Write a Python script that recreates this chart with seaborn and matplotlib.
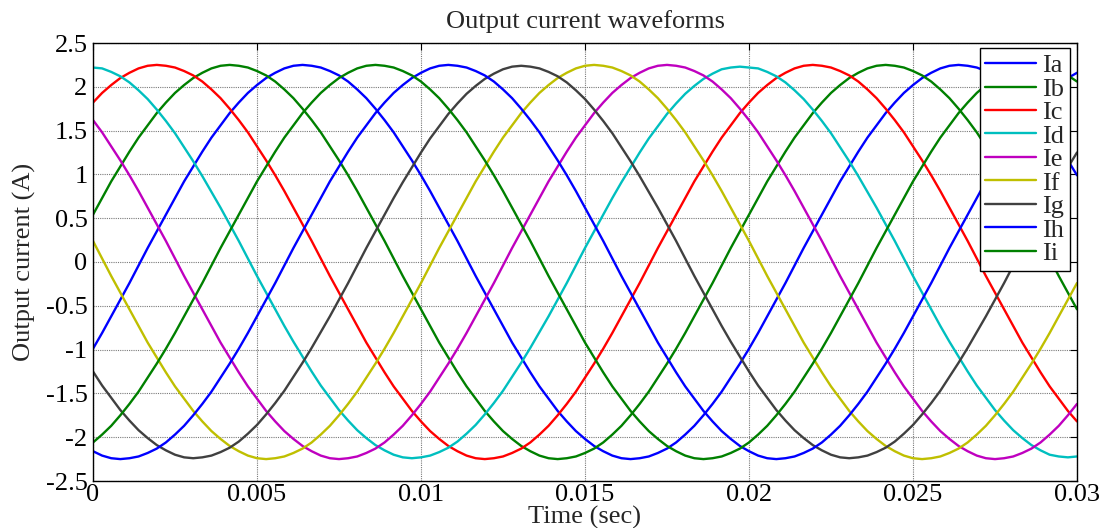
import numpy as np
import pandas as pd
import matplotlib
matplotlib.use("Agg")
import matplotlib.pyplot as plt
import seaborn as sns

time_s = np.linspace(0.0, 0.03, 109)

Ia = [-0.99, -0.81, -0.62, -0.43, -0.24, -0.04, 0.16, 0.35,
      0.54, 0.73, 0.92, 1.09, 1.26, 1.42, 1.56, 1.70,
      1.82, 1.93, 2.02, 2.10, 2.16, 2.21, 2.24, 2.25,
      2.24, 2.22, 2.18, 2.13, 2.06, 1.97, 1.87, 1.75,
      1.62, 1.48, 1.32, 1.16, 0.99, 0.81, 0.62, 0.43,
      0.24, 0.04, -0.16, -0.35, -0.54, -0.73, -0.92, -1.09,
      -1.26, -1.42, -1.56, -1.70, -1.82, -1.93, -2.02, -2.10,
      -2.16, -2.21, -2.24, -2.25, -2.24, -2.22, -2.18, -2.13,
      -2.06, -1.97, -1.87, -1.75, -1.62, -1.48, -1.32, -1.16,
      -0.99, -0.81, -0.62, -0.43, -0.24, -0.04, 0.16, 0.35,
      0.54, 0.73, 0.92, 1.09, 1.26, 1.42, 1.56, 1.70,
      1.82, 1.93, 2.02, 2.10, 2.16, 2.21, 2.24, 2.25,
      2.24, 2.22, 2.18, 2.13, 2.06, 1.97, 1.87, 1.75,
      1.62, 1.48, 1.32, 1.16, 0.99]
Ib = [0.54, 0.73, 0.92, 1.09, 1.26, 1.42, 1.56, 1.70,
      1.82, 1.93, 2.02, 2.10, 2.16, 2.21, 2.24, 2.25,
      2.24, 2.22, 2.18, 2.13, 2.06, 1.97, 1.87, 1.75,
      1.62, 1.48, 1.32, 1.16, 0.99, 0.81, 0.62, 0.43,
      0.24, 0.04, -0.16, -0.35, -0.54, -0.73, -0.92, -1.09,
      -1.26, -1.42, -1.56, -1.70, -1.82, -1.93, -2.02, -2.10,
      -2.16, -2.21, -2.24, -2.25, -2.24, -2.22, -2.18, -2.13,
      -2.06, -1.97, -1.87, -1.75, -1.62, -1.48, -1.32, -1.16,
      -0.99, -0.81, -0.62, -0.43, -0.24, -0.04, 0.16, 0.35,
      0.54, 0.73, 0.92, 1.09, 1.26, 1.42, 1.56, 1.70,
      1.82, 1.93, 2.02, 2.10, 2.16, 2.21, 2.24, 2.25,
      2.24, 2.22, 2.18, 2.13, 2.06, 1.97, 1.87, 1.75,
      1.62, 1.48, 1.32, 1.16, 0.99, 0.81, 0.62, 0.43,
      0.24, 0.04, -0.16, -0.35, -0.54]
Ic = [1.82, 1.93, 2.02, 2.10, 2.16, 2.21, 2.24, 2.25,
      2.24, 2.22, 2.18, 2.13, 2.06, 1.97, 1.87, 1.75,
      1.62, 1.48, 1.32, 1.16, 0.99, 0.81, 0.62, 0.43,
      0.24, 0.04, -0.16, -0.35, -0.54, -0.73, -0.92, -1.09,
      -1.26, -1.42, -1.56, -1.70, -1.82, -1.93, -2.02, -2.10,
      -2.16, -2.21, -2.24, -2.25, -2.24, -2.22, -2.18, -2.13,
      -2.06, -1.97, -1.87, -1.75, -1.62, -1.48, -1.32, -1.16,
      -0.99, -0.81, -0.62, -0.43, -0.24, -0.04, 0.16, 0.35,
      0.54, 0.73, 0.92, 1.09, 1.26, 1.42, 1.56, 1.70,
      1.82, 1.93, 2.02, 2.10, 2.16, 2.21, 2.24, 2.25,
      2.24, 2.22, 2.18, 2.13, 2.06, 1.97, 1.87, 1.75,
      1.62, 1.48, 1.32, 1.16, 0.99, 0.81, 0.62, 0.43,
      0.24, 0.04, -0.16, -0.35, -0.54, -0.73, -0.92, -1.09,
      -1.26, -1.42, -1.56, -1.70, -1.82]
Id = [2.22, 2.21, 2.17, 2.12, 2.05, 1.96, 1.86, 1.74,
      1.61, 1.47, 1.31, 1.15, 0.98, 0.80, 0.62, 0.43,
      0.24, 0.04, -0.16, -0.35, -0.54, -0.73, -0.91, -1.08,
      -1.25, -1.41, -1.55, -1.69, -1.81, -1.92, -2.01, -2.09,
      -2.15, -2.20, -2.23, -2.24, -2.23, -2.21, -2.17, -2.12,
      -2.05, -1.96, -1.86, -1.74, -1.61, -1.47, -1.31, -1.15,
      -0.98, -0.80, -0.62, -0.43, -0.24, -0.04, 0.16, 0.35,
      0.54, 0.73, 0.91, 1.08, 1.25, 1.41, 1.55, 1.69,
      1.81, 1.92, 2.01, 2.09, 2.15, 2.20, 2.22, 2.23,
      2.22, 2.21, 2.17, 2.12, 2.05, 1.96, 1.86, 1.74,
      1.61, 1.47, 1.31, 1.15, 0.98, 0.80, 0.62, 0.43,
      0.24, 0.04, -0.16, -0.35, -0.54, -0.73, -0.91, -1.08,
      -1.25, -1.41, -1.55, -1.69, -1.81, -1.92, -2.01, -2.09,
      -2.15, -2.20, -2.22, -2.23, -2.22]
Ie = [1.62, 1.48, 1.32, 1.16, 0.99, 0.81, 0.62, 0.43,
      0.24, 0.04, -0.16, -0.35, -0.54, -0.73, -0.92, -1.09,
      -1.26, -1.42, -1.56, -1.70, -1.82, -1.93, -2.02, -2.10,
      -2.16, -2.21, -2.24, -2.25, -2.24, -2.22, -2.18, -2.13,
      -2.06, -1.97, -1.87, -1.75, -1.62, -1.48, -1.32, -1.16,
      -0.99, -0.81, -0.62, -0.43, -0.24, -0.04, 0.16, 0.35,
      0.54, 0.73, 0.92, 1.09, 1.26, 1.42, 1.56, 1.70,
      1.82, 1.93, 2.02, 2.10, 2.16, 2.21, 2.24, 2.25,
      2.24, 2.22, 2.18, 2.13, 2.06, 1.97, 1.87, 1.75,
      1.62, 1.48, 1.32, 1.16, 0.99, 0.81, 0.62, 0.43,
      0.24, 0.04, -0.16, -0.35, -0.54, -0.73, -0.92, -1.09,
      -1.26, -1.42, -1.56, -1.70, -1.82, -1.93, -2.02, -2.10,
      -2.16, -2.21, -2.24, -2.25, -2.24, -2.22, -2.18, -2.13,
      -2.06, -1.97, -1.87, -1.75, -1.62]
If = [0.24, 0.04, -0.16, -0.35, -0.54, -0.73, -0.92, -1.09,
      -1.26, -1.42, -1.56, -1.70, -1.82, -1.93, -2.02, -2.10,
      -2.16, -2.21, -2.24, -2.25, -2.24, -2.22, -2.18, -2.13,
      -2.06, -1.97, -1.87, -1.75, -1.62, -1.48, -1.32, -1.16,
      -0.99, -0.81, -0.62, -0.43, -0.24, -0.04, 0.16, 0.35,
      0.54, 0.73, 0.92, 1.09, 1.26, 1.42, 1.56, 1.70,
      1.82, 1.93, 2.02, 2.10, 2.16, 2.21, 2.24, 2.25,
      2.24, 2.22, 2.18, 2.13, 2.06, 1.97, 1.87, 1.75,
      1.62, 1.48, 1.32, 1.16, 0.99, 0.81, 0.62, 0.43,
      0.24, 0.04, -0.16, -0.35, -0.54, -0.73, -0.92, -1.09,
      -1.26, -1.42, -1.56, -1.70, -1.82, -1.93, -2.02, -2.10,
      -2.16, -2.21, -2.24, -2.25, -2.24, -2.22, -2.18, -2.13,
      -2.06, -1.97, -1.87, -1.75, -1.62, -1.48, -1.32, -1.16,
      -0.99, -0.81, -0.62, -0.43, -0.24]
Ig = [-1.25, -1.41, -1.55, -1.69, -1.81, -1.92, -2.01, -2.09,
      -2.15, -2.20, -2.23, -2.24, -2.23, -2.21, -2.17, -2.12,
      -2.05, -1.96, -1.86, -1.74, -1.61, -1.47, -1.31, -1.15,
      -0.98, -0.80, -0.62, -0.43, -0.24, -0.04, 0.16, 0.35,
      0.54, 0.73, 0.91, 1.08, 1.25, 1.41, 1.55, 1.69,
      1.81, 1.92, 2.01, 2.09, 2.15, 2.20, 2.23, 2.24,
      2.23, 2.21, 2.17, 2.12, 2.05, 1.96, 1.86, 1.74,
      1.61, 1.47, 1.31, 1.15, 0.98, 0.80, 0.62, 0.43,
      0.24, 0.04, -0.16, -0.35, -0.54, -0.73, -0.91, -1.08,
      -1.25, -1.41, -1.55, -1.69, -1.81, -1.92, -2.01, -2.09,
      -2.15, -2.20, -2.23, -2.24, -2.23, -2.21, -2.17, -2.12,
      -2.05, -1.96, -1.86, -1.74, -1.61, -1.47, -1.31, -1.15,
      -0.98, -0.80, -0.62, -0.43, -0.24, -0.04, 0.16, 0.35,
      0.54, 0.73, 0.91, 1.08, 1.25]
Ih = [-2.16, -2.21, -2.24, -2.25, -2.24, -2.22, -2.18, -2.13,
      -2.06, -1.97, -1.87, -1.75, -1.62, -1.48, -1.32, -1.16,
      -0.99, -0.81, -0.62, -0.43, -0.24, -0.04, 0.16, 0.35,
      0.54, 0.73, 0.92, 1.09, 1.26, 1.42, 1.56, 1.70,
      1.82, 1.93, 2.02, 2.10, 2.16, 2.21, 2.24, 2.25,
      2.24, 2.22, 2.18, 2.13, 2.06, 1.97, 1.87, 1.75,
      1.62, 1.48, 1.32, 1.16, 0.99, 0.81, 0.62, 0.43,
      0.24, 0.04, -0.16, -0.35, -0.54, -0.73, -0.92, -1.09,
      -1.26, -1.42, -1.56, -1.70, -1.82, -1.93, -2.02, -2.10,
      -2.16, -2.21, -2.24, -2.25, -2.24, -2.22, -2.18, -2.13,
      -2.06, -1.97, -1.87, -1.75, -1.62, -1.48, -1.32, -1.16,
      -0.99, -0.81, -0.62, -0.43, -0.24, -0.04, 0.16, 0.35,
      0.54, 0.73, 0.92, 1.09, 1.26, 1.42, 1.56, 1.70,
      1.82, 1.93, 2.02, 2.10, 2.16]
Ii = [-2.06, -1.97, -1.87, -1.75, -1.62, -1.48, -1.32, -1.16,
      -0.99, -0.81, -0.62, -0.43, -0.24, -0.04, 0.16, 0.35,
      0.54, 0.73, 0.92, 1.09, 1.26, 1.42, 1.56, 1.70,
      1.82, 1.93, 2.02, 2.10, 2.16, 2.21, 2.24, 2.25,
      2.24, 2.22, 2.18, 2.13, 2.06, 1.97, 1.87, 1.75,
      1.62, 1.48, 1.32, 1.16, 0.99, 0.81, 0.62, 0.43,
      0.24, 0.04, -0.16, -0.35, -0.54, -0.73, -0.92, -1.09,
      -1.26, -1.42, -1.56, -1.70, -1.82, -1.93, -2.02, -2.10,
      -2.16, -2.21, -2.24, -2.25, -2.24, -2.22, -2.18, -2.13,
      -2.06, -1.97, -1.87, -1.75, -1.62, -1.48, -1.32, -1.16,
      -0.99, -0.81, -0.62, -0.43, -0.24, -0.04, 0.16, 0.35,
      0.54, 0.73, 0.92, 1.09, 1.26, 1.42, 1.56, 1.70,
      1.82, 1.93, 2.02, 2.10, 2.16, 2.21, 2.24, 2.25,
      2.24, 2.22, 2.18, 2.13, 2.06]

series_names = ["Ia", "Ib", "Ic", "Id", "Ie", "If", "Ig", "Ih", "Ii"]
series_values = [Ia, Ib, Ic, Id, Ie, If, Ig, Ih, Ii]
colors = ["#0000ff", "#008000", "#ff0000", "#00bfbf", "#bf00bf",
          "#bfbf00", "#404040", "#0000ff", "#008000"]

x_ticks = [0, 0.005, 0.01, 0.015, 0.02, 0.025, 0.03]
x_tick_labels = ["0", "0.005", "0.01", "0.015", "0.02", "0.025", "0.03"]
y_ticks = [-2.5, -2, -1.5, -1, -0.5, 0, 0.5, 1, 1.5, 2, 2.5]
y_tick_labels = ["-2.5", "-2", "-1.5", "-1", "-0.5", "0", "0.5", "1", "1.5", "2", "2.5"]

# ---- long-form table ----
frames = []
for name, vals in zip(series_names, series_values):
    frames.append(pd.DataFrame({"t": time_s, "I": vals, "phase": name}))
df = pd.concat(frames, ignore_index=True)

sns.set_style("white")
plt.rcParams["font.family"] = ["Liberation Serif", "DejaVu Serif"]

FS = 19
fig = plt.figure(figsize=(11.05, 5.28), dpi=100)
ax = fig.add_axes([93 / 1105, 47 / 528, 984 / 1105, 438 / 528])

sns.lineplot(data=df, x="t", y="I", hue="phase", hue_order=series_names,
             palette=dict(zip(series_names, colors)), linewidth=1.7,
             ax=ax, legend=True, sort=False)

ax.set_xlim(0, 0.03)
ax.set_ylim(-2.5, 2.5)
ax.set_xticks(x_ticks)
ax.set_xticklabels(x_tick_labels)
ax.set_yticks(y_ticks)
ax.set_yticklabels(y_tick_labels)
ax.tick_params(axis="both", which="both", direction="in", length=5, width=0.8,
               top=True, right=True, labelsize=FS, colors="black")
ax.tick_params(axis="x", pad=2)
ax.tick_params(axis="y", pad=4)
ax.grid(True, color="#7a7a7a", linestyle=(0, (1, 1)), linewidth=0.8)
for sp in ax.spines.values():
    sp.set_visible(True)
    sp.set_color("black")
    sp.set_linewidth(1.0)

ax.set_title("Output current waveforms", fontsize=FS, pad=11)
ax.set_xlabel("Time (sec)", fontsize=FS, labelpad=0)
ax.set_ylabel("Output current (A)", fontsize=FS, labelpad=7)

handles, labels = ax.get_legend_handles_labels()
leg = ax.legend(handles, labels, loc="upper right",
                bbox_to_anchor=(1 - 7 / 984, 1 - 5 / 438), borderaxespad=0,
                fontsize=FS, handlelength=1.9, handletextpad=0.25,
                labelspacing=0.0, borderpad=0.22, fancybox=False,
                framealpha=1, edgecolor="black")
leg.get_frame().set_linewidth(1.0)
for line in leg.get_lines():
    line.set_linewidth(1.7)

fig.savefig("out.png", dpi=100)
